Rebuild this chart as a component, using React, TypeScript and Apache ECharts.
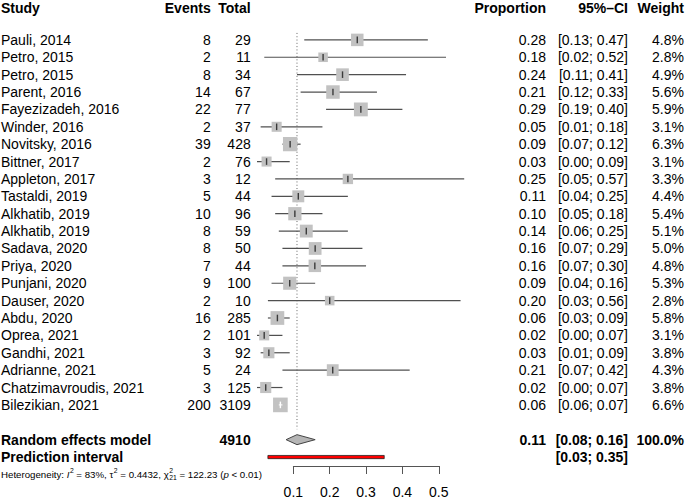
import React, { useEffect, useRef } from "react";
import * as echarts from "echarts";

// ---------- data ----------
const studies = [
  "Pauli, 2014", "Petro, 2015", "Petro, 2015", "Parent, 2016", "Fayezizadeh, 2016",
  "Winder, 2016", "Novitsky, 2016", "Bittner, 2017", "Appleton, 2017", "Tastaldi, 2019",
  "Alkhatib, 2019", "Alkhatib, 2019", "Sadava, 2020", "Priya, 2020", "Punjani, 2020",
  "Dauser, 2020", "Abdu, 2020", "Oprea, 2021", "Gandhi, 2021", "Adrianne, 2021",
  "Chatzimavroudis, 2021", "Bilezikian, 2021",
];
const events = [8, 2, 8, 14, 22, 2, 39, 2, 3, 5, 10, 8, 8, 7, 9, 2, 16, 2, 3, 5, 3, 200];
const totals = [29, 11, 34, 67, 77, 37, 428, 76, 12, 44, 96, 59, 50, 44, 100, 10, 285, 101, 92, 24, 125, 3109];
const proportions = [0.28, 0.18, 0.24, 0.21, 0.29, 0.05, 0.09, 0.03, 0.25, 0.11, 0.10, 0.14, 0.16, 0.16, 0.09, 0.20, 0.06, 0.02, 0.03, 0.21, 0.02, 0.06];
const ciLower = [0.13, 0.02, 0.11, 0.12, 0.19, 0.01, 0.07, 0.00, 0.05, 0.04, 0.05, 0.06, 0.07, 0.07, 0.04, 0.03, 0.03, 0.00, 0.01, 0.07, 0.00, 0.06];
const ciUpper = [0.47, 0.52, 0.41, 0.33, 0.40, 0.18, 0.12, 0.09, 0.57, 0.25, 0.18, 0.25, 0.29, 0.30, 0.16, 0.56, 0.09, 0.07, 0.09, 0.42, 0.07, 0.07];
const weights = [4.8, 2.8, 4.9, 5.6, 5.9, 3.1, 6.3, 3.1, 3.3, 4.4, 5.4, 5.1, 5.0, 4.8, 5.3, 2.8, 5.8, 3.1, 3.8, 4.3, 3.8, 6.6];

const pooledTotal = 4910;
const pooledEst = 0.11;
const pooledLower = 0.08;
const pooledUpper = 0.16;
const pooledWeight = "100.0%";
const predLower = 0.03;
const predUpper = 0.35;
const xTicks = [0.1, 0.2, 0.3, 0.4, 0.5];
const headers = ["Study", "Events", "Total", "Proportion", "95%\u2013CI", "Weight"];
const hetI2 = "83%";
const hetTau2 = "0.4432";
const hetDf = "21";
const hetQ = "122.23";
const hetP = "< 0.01";

// ---------- layout ----------
const W = 685;
const H = 499;
const FONT = '"Liberation Sans", Arial, Helvetica, sans-serif';
const ROW0 = 40;
const ROWH = 17.43;
const AXIS_Y = 467.3;
const X_AT_01 = 293.35;
const X_AT_05 = 438.75;
const HEADER_SHIFT = 3;
const colX = [1, 210.7, 250.7, 546, 628, 684];
const colAlign = ["left", "right", "right", "right", "right", "right"];
const n = studies.length;
const kHeader = -2;
const kPooled = n + 1;
const kPred = n + 2;
const kHet = n + 3;

type Row = { k: number; cells: string[]; bold: boolean; shift: number };
const tableRows: Row[] = [
  { k: kHeader, cells: headers, bold: true, shift: HEADER_SHIFT },
  ...studies.map((s, i) => ({
    k: i,
    cells: [
      s,
      String(events[i]),
      String(totals[i]),
      proportions[i].toFixed(2),
      `[${ciLower[i].toFixed(2)}; ${ciUpper[i].toFixed(2)}]`,
      weights[i].toFixed(1) + "%",
    ],
    bold: false,
    shift: 0,
  })),
  {
    k: kPooled,
    cells: [
      "Random effects model", "", String(pooledTotal), pooledEst.toFixed(2),
      `[${pooledLower.toFixed(2)}; ${pooledUpper.toFixed(2)}]`, pooledWeight,
    ],
    bold: true,
    shift: 0,
  },
  {
    k: kPred,
    cells: ["Prediction interval", "", "", "", `[${predLower.toFixed(2)}; ${predUpper.toFixed(2)}]`, ""],
    bold: true,
    shift: 0,
  },
];

let measureCtx: CanvasRenderingContext2D | null = null;
function textWidth(text: string, size: number, style: string, weight: string) {
  if (!measureCtx) measureCtx = document.createElement("canvas").getContext("2d");
  if (!measureCtx) return text.length * size * 0.5;
  measureCtx.font = `${style} ${weight} ${size}px ${FONT}`;
  return measureCtx.measureText(text).width;
}

export default function App() {
  const ref = useRef<HTMLDivElement>(null);

  useEffect(() => {
    document.body.style.margin = "0";
    if (!ref.current) return;
    const chart = echarts.init(ref.current, undefined, { renderer: "svg" });

    const studyData = studies.map((_, i) => [events[i] / totals[i], i]);

    const option: any = {
      animation: false,
      backgroundColor: "#fff",
      grid: { left: X_AT_01, right: W - X_AT_05, top: 0, bottom: H - AXIS_Y, containLabel: false },
      xAxis: {
        type: "value",
        position: "bottom",
        min: xTicks[0],
        max: xTicks[xTicks.length - 1],
        interval: 0.1,
        axisLine: { show: true, onZero: false, lineStyle: { color: "#555", width: 1 } },
        axisTick: { show: true, length: 8, lineStyle: { color: "#555", width: 1 } },
        axisLabel: {
          show: true,
          margin: 19,
          color: "#000",
          fontSize: 14,
          fontFamily: FONT,
          formatter: (v: number) => v.toFixed(1),
        },
        splitLine: { show: false },
      },
      yAxis: {
        type: "value",
        inverse: true,
        min: -ROW0 / ROWH,
        max: (AXIS_Y - ROW0) / ROWH,
        show: false,
        splitLine: { show: false },
      },
      series: [
        {
          type: "custom",
          name: "summary",
          clip: false,
          z: 1,
          data: [[pooledEst, kPooled]],
          renderItem: (params: any, api: any) => {
            const est = api.value(0);
            const k = api.value(1);
            const [cx, cy] = api.coord([est, k]);
            const top = api.coord([est, -0.4])[1];
            const bottom = api.coord([est, n + 0.4])[1];
            const xl = api.coord([pooledLower, k])[0];
            const xh = api.coord([pooledUpper, k])[0];
            const py = api.coord([0, kPred])[1];
            const pl = api.coord([predLower, kPred])[0];
            const ph = api.coord([predUpper, kPred])[0];
            return {
              type: "group",
              children: [
                {
                  type: "line",
                  shape: { x1: cx, y1: top, x2: cx, y2: bottom },
                  style: { stroke: "#666", lineWidth: 1, lineDash: [1, 2.3] },
                },
                {
                  type: "polygon",
                  shape: { points: [[xl, cy], [cx, cy - 5], [xh, cy], [cx, cy + 5]] },
                  style: { fill: "#b5b5b5", stroke: "#444", lineWidth: 1 },
                },
                {
                  type: "rect",
                  shape: { x: pl, y: py - 1.6, width: ph - pl, height: 3.2 },
                  style: { fill: "#ff0000", stroke: "#222", lineWidth: 0.8 },
                },
              ],
            };
          },
        },
        {
          type: "custom",
          name: "studies",
          clip: false,
          z: 2,
          data: studyData,
          renderItem: (params: any, api: any) => {
            const i = params.dataIndex;
            const est = api.value(0);
            const k = api.value(1);
            const [cx, cy] = api.coord([est, k]);
            const xl = api.coord([ciLower[i], k])[0];
            const xh = api.coord([ciUpper[i], k])[0];
            const side = 5.7 * Math.sqrt(weights[i]);
            const inside = xl >= cx - side / 2 && xh <= cx + side / 2;
            const children: any[] = [];
            if (!inside) {
              children.push({
                type: "line",
                shape: { x1: xl, y1: cy, x2: xh, y2: cy },
                style: { stroke: "#505050", lineWidth: 1.2 },
              });
            }
            children.push({
              type: "rect",
              shape: { x: cx - side / 2, y: cy - side / 2, width: side, height: side },
              style: { fill: "#c2c2c2" },
            });
            if (inside) {
              children.push({
                type: "line",
                shape: { x1: xl, y1: cy, x2: xh, y2: cy },
                style: { stroke: "#fff", lineWidth: 1.1 },
              });
            }
            children.push({
              type: "line",
              shape: { x1: cx, y1: cy - 3.3, x2: cx, y2: cy + 3.3 },
              style: { stroke: inside ? "#fff" : "#3a3a3a", lineWidth: 1.4 },
            });
            return { type: "group", children };
          },
        },
        {
          type: "custom",
          name: "table",
          clip: false,
          z: 3,
          data: tableRows.map((r) => [xTicks[0], r.k]),
          renderItem: (params: any, api: any) => {
            const row = tableRows[params.dataIndex];
            const cy = api.coord([api.value(0), api.value(1)])[1] + row.shift;
            const children = row.cells
              .map((t, c) => ({ t, c }))
              .filter((o) => o.t !== "")
              .map(({ t, c }) => ({
                type: "text",
                x: colX[c],
                y: cy,
                style: {
                  text: t,
                  fill: "#000",
                  fontSize: 14,
                  fontFamily: FONT,
                  fontWeight: row.bold ? "bold" : "normal",
                  align: colAlign[c],
                  verticalAlign: "middle",
                },
              }));
            return { type: "group", children };
          },
        },
        {
          type: "custom",
          name: "heterogeneity",
          clip: false,
          z: 3,
          data: [[xTicks[0], kHet]],
          renderItem: (params: any, api: any) => {
            const cy = api.coord([api.value(0), api.value(1)])[1];
            const base = 9.7;
            const small = 6.8;
            type Seg = { t: string; italic?: boolean; sup?: string; sub?: string };
            const segs: Seg[] = [
              { t: "Heterogeneity: " },
              { t: "I", italic: true, sup: "2" },
              { t: ` = ${hetI2}, ` },
              { t: "\u03c4", sup: "2" },
              { t: ` = ${hetTau2}, ` },
              { t: "\u03c7", sup: "2", sub: hetDf },
              { t: ` = ${hetQ} (` },
              { t: "p", italic: true },
              { t: ` ${hetP})` },
            ];
            const children: any[] = [];
            let x = 1;
            const mk = (t: string, xx: number, yy: number, size: number, italic: boolean) => ({
              type: "text",
              x: xx,
              y: yy,
              style: {
                text: t,
                fill: "#000",
                fontSize: size,
                fontFamily: FONT,
                fontStyle: italic ? "italic" : "normal",
                align: "left",
                verticalAlign: "middle",
              },
            });
            for (const s of segs) {
              children.push(mk(s.t, x, cy, base, !!s.italic));
              x += textWidth(s.t, base, s.italic ? "italic" : "normal", "normal");
              let adv = 0;
              if (s.sup) {
                children.push(mk(s.sup, x + 0.5, cy - 3.6, small, false));
                adv = Math.max(adv, textWidth(s.sup, small, "normal", "normal") + 0.5);
              }
              if (s.sub) {
                children.push(mk(s.sub, x + 0.5, cy + 3, small, false));
                adv = Math.max(adv, textWidth(s.sub, small, "normal", "normal") + 0.5);
              }
              x += adv;
            }
            return { type: "group", children };
          },
        },
      ],
    };

    chart.setOption(option);
    return () => {
      chart.dispose();
    };
  }, []);

  return (
    <div
      ref={ref}
      style={{ position: "absolute", left: 0, top: 0, width: W, height: H, background: "#fff" }}
    />
  );
}
